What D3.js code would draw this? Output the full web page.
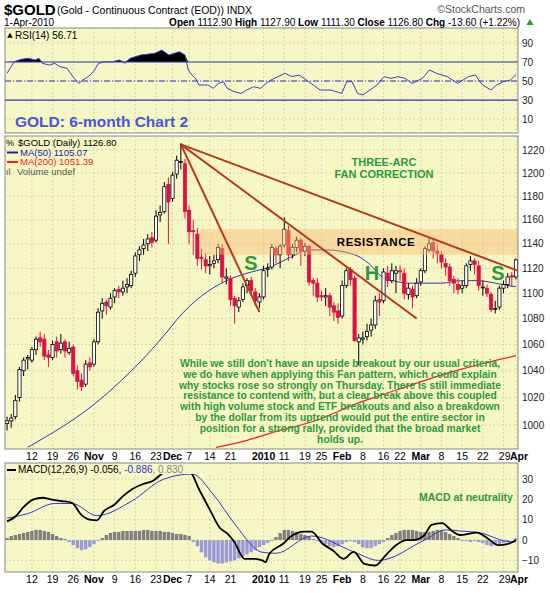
<!DOCTYPE html>
<html><head><meta charset="utf-8">
<script src="https://cdn.jsdelivr.net/npm/d3@7/dist/d3.min.js"></script>
<style>body{margin:0;background:#fff}svg{display:block;font-family:"Liberation Sans",Arial,sans-serif}</style>
</head><body>
<script>
// ---------- DATA ----------
const dates = ["Oct 2","Oct 5","Oct 6","Oct 7","Oct 8","Oct 9","Oct 12","Oct 13","Oct 14","Oct 15","Oct 16","Oct 19","Oct 20","Oct 21","Oct 22","Oct 23","Oct 26","Oct 27","Oct 28","Oct 29","Oct 30",
"Nov 2","Nov 3","Nov 4","Nov 5","Nov 6","Nov 9","Nov 10","Nov 11","Nov 12","Nov 13","Nov 16","Nov 17","Nov 18","Nov 19","Nov 20","Nov 23","Nov 24","Nov 25","Nov 27",
"Dec 1","Dec 2","Dec 3","Dec 4","Dec 7","Dec 8","Dec 9","Dec 10","Dec 11","Dec 14","Dec 15","Dec 16","Dec 17","Dec 18","Dec 21","Dec 22","Dec 23","Dec 24","Dec 28","Dec 29","Dec 30","Dec 31",
"Jan 4","Jan 5","Jan 6","Jan 7","Jan 8","Jan 11","Jan 12","Jan 13","Jan 14","Jan 15","Jan 19","Jan 20","Jan 21","Jan 22","Jan 25","Jan 26","Jan 27","Jan 28","Jan 29",
"Feb 1","Feb 2","Feb 3","Feb 4","Feb 5","Feb 8","Feb 9","Feb 10","Feb 11","Feb 12","Feb 16","Feb 17","Feb 18","Feb 19","Feb 22","Feb 23","Feb 24","Feb 25","Feb 26",
"Mar 1","Mar 2","Mar 3","Mar 4","Mar 5","Mar 8","Mar 9","Mar 10","Mar 11","Mar 12","Mar 15","Mar 16","Mar 17","Mar 18","Mar 19","Mar 22","Mar 23","Mar 24","Mar 25","Mar 26","Mar 29","Mar 30","Mar 31","Apr 1"];
const opens = [1001,1003,1006,1020,1040,1049,1048,1056,1065,1064,1052,1050,1062,1056,1062,1054,1058,1040,1033,1030,1046,
1045,1062,1086,1093,1089,1097,1103,1101,1105,1106,1116,1131,1136,1140,1145,1143,1164,1167,1190,
1178,1199,1210,1208,1168,1151,1148,1129,1127,1122,1124,1127,1136,1112,1112,1096,1089,1095,1106,1110,1101,1093,
1097,1119,1121,1136,1131,1139,1151,1131,1137,1143,1134,1138,1110,1108,1098,1097,1098,1090,1086,
1082,1106,1119,1112,1062,1064,1066,1071,1075,1095,1094,1116,1110,1116,1118,1116,1099,1103,1098,
1109,1118,1135,1141,1134,1131,1124,1121,1111,1107,1104,1106,1123,1126,1122,1105,1104,1099,1088,1089,1104,1107,1114,1113];
const highs = [1006,1008,1022,1043,1050,1052,1058,1066,1070,1068,1056,1063,1066,1068,1064,1062,1060,1044,1038,1048,1050,
1064,1088,1096,1095,1100,1104,1106,1110,1112,1118,1133,1138,1144,1148,1150,1168,1172,1192,1196,
1201,1215,1226,1212,1172,1160,1153,1136,1132,1130,1131,1140,1140,1120,1114,1098,1097,1108,1112,1113,1104,1100,
1122,1124,1140,1138,1140,1162,1155,1140,1146,1145,1141,1139,1112,1112,1102,1104,1100,1093,1092,
1110,1120,1121,1114,1068,1070,1076,1080,1098,1100,1120,1122,1124,1122,1122,1120,1108,1106,1112,
1120,1138,1146,1144,1140,1134,1128,1124,1114,1112,1110,1124,1130,1128,1126,1110,1107,1101,1094,1106,1110,1116,1117,1128];
const lows = [996,998,1004,1017,1036,1041,1046,1052,1058,1048,1043,1048,1050,1053,1050,1052,1036,1026,1025,1028,1040,
1043,1060,1080,1083,1087,1092,1096,1098,1100,1104,1113,1126,1131,1134,1137,1141,1158,1165,1140,
1175,1195,1203,1161,1140,1131,1122,1119,1116,1115,1120,1124,1108,1107,1090,1076,1085,1093,1100,1098,1090,1088,
1095,1113,1119,1124,1120,1137,1126,1128,1133,1122,1130,1106,1098,1093,1094,1090,1082,1078,1076,
1080,1104,1106,1062,1044,1060,1063,1066,1072,1082,1092,1105,1108,1100,1110,1095,1095,1088,1096,
1106,1116,1133,1128,1124,1120,1114,1106,1100,1099,1100,1104,1118,1115,1102,1098,1097,1085,1084,1087,1100,1104,1105,1111];
const closes = [1003,1005,1018,1041,1048,1050,1056,1064,1062,1051,1050,1060,1055,1061,1055,1057,1038,1032,1028,1045,1043,
1062,1085,1092,1090,1096,1102,1101,1104,1107,1115,1130,1135,1139,1144,1141,1163,1166,1188,1175,
1198,1211,1210,1167,1150,1150,1128,1128,1122,1123,1126,1137,1113,1113,1095,1090,1094,1105,1110,1102,1094,1097,
1118,1120,1137,1131,1138,1152,1131,1137,1143,1134,1138,1109,1108,1097,1097,1098,1089,1085,1081,
1106,1118,1111,1063,1065,1065,1070,1075,1094,1093,1117,1110,1118,1118,1117,1100,1104,1097,1108,
1118,1136,1140,1134,1132,1125,1121,1110,1108,1103,1106,1122,1126,1123,1106,1105,1100,1087,1088,1104,1107,1113,1113,1126.8];
// moving averages: [trading-day index, price]
const ma50 = [[5,984],[23,1020],[39,1071],[41,1079],[53,1110],[58,1116],[63.5,1121],[68.6,1129],[73,1135],[77,1135],[84,1131],[87.4,1124],[90.8,1113],[97.6,1108],[105,1108],[109.6,1110],[114,1110],[118,1108],[123,1105.07]];
const ma200 = [[50.5,984],[58,989],[63.5,994],[75.3,1004],[84,1015],[92.5,1024],[101.2,1033],[109.6,1041],[123,1051.39]];
const rsiPts = [[0,58.1],[1.7,70.3],[3.4,72.8],[5.1,73.9],[6.8,72.1],[7.7,73.9],[8.5,68.6],[10.2,66.8],[11.5,68.6],[12.8,65.1],[14.5,63.4],[16.2,52.8],[17.4,47.5],[18.3,51.1],[19.6,54.6],[20.9,59.8],[22.1,68.6],[23.8,70.3],[25.5,70.3],[27.2,72.1],[28.5,68.6],[29.8,73.9],[32.3,77.4],[35.7,79.1],[37.4,82.6],[39.1,77.4],[40.4,79.1],[41.7,80.8],[43,77.4],[43.8,61.6],[44.7,56.3],[45.5,52.8],[46.4,45.8],[48.5,45.8],[49.8,42.3],[51.1,47.5],[52.3,49.3],[53.2,42.3],[54.9,38.8],[56.6,37],[57.9,40.5],[59.6,44],[61.3,42.3],[62.6,47.5],[63.8,51.1],[65.5,54.6],[67.2,58.1],[68.9,54.6],[70.6,56.3],[72.3,51.1],[74,45.8],[75.7,40.5],[78.3,40.5],[80.9,37],[82.1,49.3],[83.4,49.3],[84.7,37],[86,35.3],[87.7,40.5],[89.4,45.8],[91.1,54.6],[92.8,52.8],[94.5,54.6],[96.2,52.8],[97.9,47.5],[100.4,52.8],[102.1,61.6],[103.8,58.1],[106.4,54.6],[108.9,47.5],[111.5,54.6],[113.2,56.3],[114.9,45.8],[117,40.5],[118.3,45.8],[120,49.3],[121.7,51.1],[123,56.71]];
const macdPts = [[0,9.2],[2.1,11.7],[3.8,15.8],[6.4,20],[8.5,20.8],[10.6,20],[13.2,19.2],[15.7,18.3],[17.9,12.5],[20,10],[21.7,9.7],[23.4,14.2],[26,17.5],[28.1,21.7],[30.2,25],[32.8,27.5],[35.3,29.2],[37.9,33.3],[40.4,35],[44.3,33.3],[46.4,25],[49,15],[51.5,5.8],[53.2,3.3],[54.9,-0.8],[57.4,-9.2],[60,-9.2],[61.7,-10],[62.5,-10.8],[63.4,-6.7],[66.8,-1.7],[68.5,1.7],[71.9,4.2],[73.6,4.2],[76.2,-1.7],[78.7,-5],[81.3,-9.2],[83.8,-5.8],[86.4,-11.7],[89,-12.5],[91.5,-7.5],[94,-2.5],[96.6,0],[98.3,0],[100.9,2.5],[102.6,7.5],[105.1,8.3],[107.7,4.2],[109.4,2.5],[113.6,3.7],[116.2,0.8],[118.7,-2.5],[121.3,-1.7],[123,-0.056]];
const signalPts = [[0,10.8],[5,13],[11.5,18],[15.7,18],[21.7,12],[30,19],[37.9,30],[44.7,32.5],[50,22],[55,8],[61.7,-6],[65,-6.5],[73.6,2],[83.8,-5.8],[89.8,-10],[100.9,0],[106,5],[109.4,4.5],[114.5,3.5],[120.4,-0.5],[123,-0.886]];
const hist = [1,2,2.5,3,3.5,4,4.5,5,5,4.5,4,3,2,1,0.5,
-1,-2.5,-4,-5,-4.5,-3.5,-2,-0.5,
1,2.5,3.5,4,4,4.5,4.5,4.5,4.5,4.5,5,5,4.5,4.5,4.5,4,4,3.5,3,3,2.5,2,
-1,-3,-6,-8.5,-10,-11,-11.5,-11.5,-11,-10.5,-10,-9,-8,-7,-6,-5,-3.5,-2.5,-1.5,-0.5,
1.5,3.5,5,5,4.5,4,3,2.5,1.5,0.5,
-0.5,-1.5,-2,-3,-3.5,-3,-2,-1,-0.5,-1,-2,-3.5,-4,-4,-3,-2,-1,
1,2.5,3.5,4.5,5,5,5,4.5,4,4,4,4.5,5,5,4,3,2,1,
-0.5,-0.5,-1,-0.5,-1,-1.5,-2.5,-3,-2.5,-2,-1.5,-1,0,0.83];
const xTicks = [[6,"12"],[11,"19"],[16,"26"],[21,"Nov",1],[26,"9"],[31,"16"],[36,"23"],[40,"Dec",1],[44,"7"],[49,"14"],[54,"21"],[62,"2010",1],[67,"11"],[72,"19"],[76,"25"],[81,"Feb",1],[86,"8"],[91,"16"],[95,"22"],[100,"Mar",1],[105,"8"],[110,"15"],[115,"22"],[120,"29"],[123,"Apr",1]];
const priceTicks = [1000,1020,1040,1060,1080,1100,1120,1140,1160,1180,1200,1220];
const rsiTicks = [10,30,50,70,90];
const macdTicks = [-10,0,10,20,30];
const fanOrigin = [42,1225];
const fanEnds = [[61,1085],[99,1080],[123.5,1118]];
const resistance = [46.5,1131,1152];
const commentary = ["While we still don't have an upside breakout by our usual criteria,",
"we do have when applying this Fan pattern, which could explain",
"why stocks rose so strongly on Thursday. There is still immediate",
"resistance to contend with, but a clear break above this coupled",
"with high volume stock and ETF breakouts and also a breakdown",
"by the dollar from its uptrend would put the entire sector in",
"position for a strong rally, provided that the broad market",
"holds up."];

// ---------- DRAW ----------
const W=550,H=593,L=5,R=518;
const svg=d3.select("body").append("svg").attr("width",W).attr("height",H);
const x=d3.scaleLinear().domain([-0.5,dates.length-0.5]).range([L,R]);
const P={rsi:[28,133],price:[136,449],macd:[463,572]};
const yR=d3.scaleLinear().domain([-4.7,105.8]).range([133,28]);
const yP=d3.scaleLog().domain([982.8,1232.4]).range([449,136]);
const yM=d3.scaleLinear().domain([-15.7,37.9]).range([572,463]);
const BG="#f7f7c6", GRID="#c9c9a8", GREEN="#2a9a3a";

function panel(p,yS,ticks,id){
  const g=svg.append("g");
  g.append("rect").attr("x",L).attr("y",p[0]).attr("width",R-L).attr("height",p[1]-p[0]).attr("fill",BG);
  g.selectAll(".vg").data(xTicks).join("line").attr("x1",d=>x(d[0])).attr("x2",d=>x(d[0])).attr("y1",p[0]).attr("y2",p[1]).attr("stroke",GRID).attr("stroke-dasharray","2,2").attr("stroke-width",0.7);
  g.selectAll(".hg").data(ticks).join("line").attr("x1",L).attr("x2",R).attr("y1",d=>yS(d)).attr("y2",d=>yS(d)).attr("stroke",GRID).attr("stroke-dasharray","2,2").attr("stroke-width",0.7);
  const ax=d3.axisRight(yS).tickValues(ticks).tickSize(0).tickPadding(4).tickFormat(d3.format("d"));
  const a=svg.append("g").attr("transform",`translate(${R},0)`).call(ax);
  a.select(".domain").remove();
  a.selectAll("text").attr("font-size",10).attr("fill","#222").attr("font-family","Liberation Sans,Arial");
  svg.append("clipPath").attr("id",id).append("rect").attr("x",L).attr("y",p[0]).attr("width",R-L).attr("height",p[1]-p[0]);
  return svg.append("g").attr("clip-path",`url(#${id})`);
}
function border(p){svg.append("rect").attr("x",L).attr("y",p[0]).attr("width",R-L).attr("height",p[1]-p[0]).attr("fill","none").attr("stroke","#888").attr("stroke-width",1);}

// header
svg.append("text").attr("x",4).attr("y",15).attr("font-size",15).attr("font-weight","bold").text("$GOLD");
svg.append("text").attr("x",57).attr("y",14).attr("font-size",10.5).text("(Gold - Continuous Contract (EOD)) INDX");
svg.append("text").attr("x",525).attr("y",13).attr("text-anchor","end").attr("font-size",10.5).attr("fill","#555").text("©StockCharts.com");
svg.append("text").attr("x",4).attr("y",26).attr("font-size",10).text("1-Apr-2010");
const hdr=svg.append("text").attr("x",520).attr("y",26).attr("text-anchor","end").attr("font-size",10);
[["Open ",1],["1112.90  ",0],["High ",1],["1127.90  ",0],["Low ",1],["1111.30  ",0],["Close ",1],["1126.80  ",0],["Chg ",1],["-13.60 (+1.22%)",0]].forEach(s=>hdr.append("tspan").attr("font-weight",s[1]?"bold":"normal").text(s[0]));
svg.append("path").attr("d",d3.symbol(d3.symbolTriangle,22)()).attr("transform","translate(530,23)").attr("fill","#2a9a3a");

// RSI panel
const gR=panel(P.rsi,yR,rsiTicks,"cr");
const rl=d3.line().x(d=>x(d[0])).y(d=>yR(d[1]));
gR.append("path").datum(rsiPts).attr("d",d3.area().x(d=>x(d[0])).y0(yR(70)).y1(d=>yR(Math.max(70,d[1])))).attr("fill","#000");
[70,30].forEach(v=>gR.append("line").attr("x1",L).attr("x2",R).attr("y1",yR(v)).attr("y2",yR(v)).attr("stroke","#3030c8").attr("stroke-width",1.2));
gR.append("line").attr("x1",L).attr("x2",R).attr("y1",yR(50)).attr("y2",yR(50)).attr("stroke","#3030c8").attr("stroke-dasharray","6,2,1,2");
gR.append("path").datum(rsiPts).attr("d",rl).attr("fill","none").attr("stroke","#3c3cd0").attr("stroke-width",1);
svg.append("path").attr("d",d3.symbol(d3.symbolTriangle,14)()).attr("transform","translate(10,36)").attr("fill","#000");
svg.append("text").attr("x",15).attr("y",39).attr("font-size",10).text("RSI(14) 56.71");
svg.append("text").attr("x",15).attr("y",127).attr("font-size",15.5).attr("font-weight","bold").attr("fill","#4a55d8").text("GOLD: 6-month Chart 2");
border(P.rsi);

// price panel
const gP=panel(P.price,yP,priceTicks,"cp");
gP.append("path").datum(ma200).attr("d",d3.line().x(d=>x(d[0])).y(d=>yP(d[1])).curve(d3.curveMonotoneX)).attr("fill","none").attr("stroke","#ee2222").attr("stroke-width",1.2);
gP.append("path").datum(ma50).attr("d",d3.line().x(d=>x(d[0])).y(d=>yP(d[1])).curve(d3.curveMonotoneX)).attr("fill","none").attr("stroke","#3333bb").attr("stroke-width",1);
const idx=d3.range(closes.length);
const up=i=>closes[i]>=opens[i];
gP.selectAll(".wick").data(idx).join("line").attr("x1",i=>x(i)).attr("x2",i=>x(i)).attr("y1",i=>yP(highs[i])).attr("y2",i=>yP(lows[i])).attr("stroke",i=>up(i)?"#000":"#dd1144").attr("stroke-width",1);
gP.selectAll(".body").data(idx).join("rect").attr("x",i=>x(i)-1.6).attr("width",3.2)
 .attr("y",i=>yP(Math.max(opens[i],closes[i]))).attr("height",i=>Math.max(1,Math.abs(yP(opens[i])-yP(closes[i]))))
 .attr("fill",i=>up(i)?"#fff":"#dd1144").attr("stroke",i=>up(i)?"#000":"#dd1144").attr("stroke-width",0.8);
gP.append("rect").attr("x",x(resistance[0])).attr("width",R-x(resistance[0])).attr("y",yP(resistance[2])).attr("height",yP(resistance[1])-yP(resistance[2])).attr("fill","rgba(250,185,110,0.45)");
fanEnds.forEach(e=>gP.append("line").attr("x1",x(fanOrigin[0])).attr("y1",yP(fanOrigin[1])).attr("x2",x(e[0])).attr("y2",yP(e[1])).attr("stroke","#b8381c").attr("stroke-width",2));
gP.append("text").attr("x",376).attr("y",246).attr("text-anchor","middle").attr("font-size",11.5).attr("font-weight","bold").attr("letter-spacing",0.5).text("RESISTANCE");
[["S",251,270],["H",372,280],["S",498,280]].forEach(s=>gP.append("text").attr("x",s[1]).attr("y",s[2]).attr("text-anchor","middle").attr("font-size",20).attr("font-weight","bold").attr("fill",GREEN).text(s[0]));
gP.append("text").attr("x",384).attr("y",166).attr("text-anchor","middle").attr("font-size",11).attr("font-weight","bold").attr("fill",GREEN).text("THREE-ARC");
gP.append("text").attr("x",384).attr("y",178).attr("text-anchor","middle").attr("font-size",11).attr("font-weight","bold").attr("fill",GREEN).text("FAN CORRECTION");
commentary.forEach((t,i)=>gP.append("text").attr("x",340).attr("y",367+i*10.8).attr("text-anchor","middle").attr("font-size",10.3).attr("font-weight","bold").attr("fill",GREEN).text(t));
const lg=[["$GOLD (Daily) 1126.80","#000"],["MA(50) 1105.07","#2222aa"],["MA(200) 1051.39","#ee2222"],["Volume undef","#555"]];
lg.forEach((d,i)=>{svg.append("text").attr("x",i==0?18:i==3?17:20).attr("y",146+i*9.5).attr("font-size",9.5).attr("fill",d[1]).text(d[0]);
 if(i==1||i==2) svg.append("line").attr("x1",7).attr("x2",18).attr("y1",143+i*9.5).attr("y2",143+i*9.5).attr("stroke",d[1]).attr("stroke-width",2);});
svg.append("text").attr("x",6).attr("y",146).attr("font-size",9).text("%");
svg.append("text").attr("x",6).attr("y",174.5).attr("font-size",9).attr("fill","#555").text("ıl");
border(P.price);

// x-axis labels
function xlabels(yy){svg.selectAll(null).data(xTicks).join("text")
 .attr("x",d=>d[1]==="29"?x(d[0])+7:d[1]==="Apr"?x(d[0])-6:x(d[0]))
 .attr("y",yy).attr("text-anchor",d=>d[1]==="29"?"end":d[1]==="Apr"?"start":"middle")
 .attr("font-size",10.5).attr("font-weight",d=>d[2]?"bold":"normal").text(d=>d[1]);}
xlabels(460);

// MACD panel
const gM=panel(P.macd,yM,macdTicks,"cm");
gM.selectAll(".h").data(idx).join("rect").attr("x",i=>x(i)-1.7).attr("width",3.4)
 .attr("y",i=>yM(Math.max(0,hist[i]))).attr("height",i=>Math.abs(yM(hist[i])-yM(0)))
 .attr("fill",i=>hist[i]>=0?"#808080":"#9a9ad8");
gM.append("path").datum(signalPts).attr("d",d3.line().x(d=>x(d[0])).y(d=>yM(d[1])).curve(d3.curveMonotoneX)).attr("fill","none").attr("stroke","#3333dd").attr("stroke-width",1);
gM.append("path").datum(macdPts).attr("d",d3.line().x(d=>x(d[0])).y(d=>yM(d[1])).curve(d3.curveMonotoneX)).attr("fill","none").attr("stroke","#000").attr("stroke-width",1.8);
svg.append("rect").attr("x",6).attr("y",463).attr("width",205).attr("height",11).attr("fill",BG);
svg.append("line").attr("x1",7).attr("x2",16).attr("y1",470).attr("y2",470).attr("stroke","#000").attr("stroke-width",2);
const mt=svg.append("text").attr("x",18).attr("y",473).attr("font-size",10);
mt.append("tspan").text("MACD(12,26,9) -0.056, ");mt.append("tspan").attr("fill","#3333dd").text("-0.886");mt.append("tspan").attr("fill","#888").text(", 0.830");
svg.append("text").attr("x",466).attr("y",501).attr("text-anchor","middle").attr("font-size",10.5).attr("font-weight","bold").attr("fill",GREEN).text("MACD at neutrality");
border(P.macd);
xlabels(583);
</script>
</body></html>
